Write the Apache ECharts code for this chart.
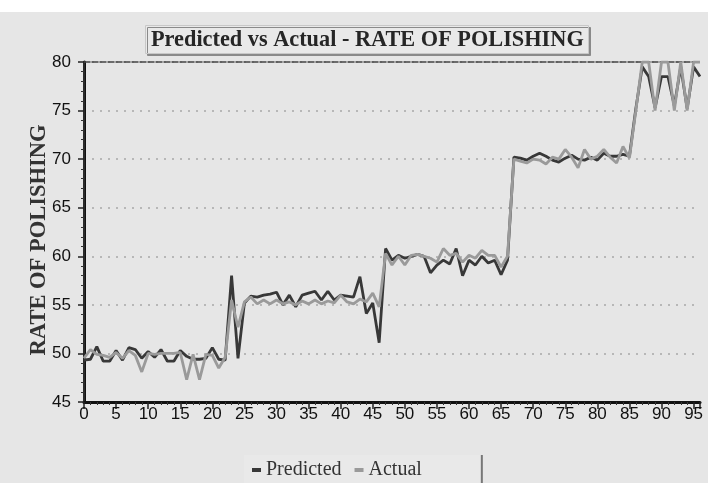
<!DOCTYPE html>
<html>
<head>
<meta charset="utf-8">
<script src="https://cdn.jsdelivr.net/npm/echarts@6/dist/echarts.min.js"></script>
<style>
  html, body { margin: 0; padding: 0; background: #fff; }
  #chart { width: 708px; height: 483px; }
</style>
</head>
<body>
<div id="chart"></div>
<script>
// sample index 0..96
const predicted = [
  49.3, 49.4, 50.7, 49.2, 49.2, 50.3, 49.3, 50.6, 50.4, 49.5,
  50.2, 49.6, 50.4, 49.2, 49.2, 50.3, 49.7, 49.4, 49.4, 49.5,
  50.6, 49.4, 49.3, 58.0, 49.5, 55.2, 55.9, 55.8, 56.0, 56.1,
  56.3, 55.0, 56.0, 54.8, 56.0, 56.2, 56.4, 55.5, 56.4, 55.5,
  56.0, 55.9, 55.8, 57.9, 54.1, 55.2, 51.1, 60.8, 59.6, 60.1,
  59.8, 60.0, 60.2, 60.0, 58.3, 59.1, 59.6, 59.2, 60.8, 58.0,
  59.6, 59.1, 60.0, 59.3, 59.6, 58.1, 59.6, 70.2, 70.1, 69.9,
  70.3, 70.6, 70.3, 69.9, 69.7, 70.1, 70.4, 70.0, 69.9, 70.2,
  69.9, 70.6, 70.3, 70.3, 70.5, 70.3, 75.2, 79.5, 78.5, 75.3,
  78.5, 78.5, 75.5, 79.5, 75.2, 79.5, 78.5
];
const actual = [
  49.5, 50.4, 49.9, 49.8, 49.6, 50.1, 49.5, 50.3, 49.8, 48.1,
  50.0, 49.9, 50.0, 50.0, 50.0, 50.1, 47.3, 49.9, 47.3, 49.9,
  49.8, 48.5, 49.6, 55.5, 52.7, 55.3, 55.8, 55.1, 55.5, 55.1,
  55.5, 55.1, 55.3, 55.0, 55.4, 55.1, 55.5, 55.1, 55.4, 55.2,
  56.0, 55.3, 55.1, 55.6, 55.3, 56.2, 54.8, 60.3, 59.1, 60.0,
  59.1, 60.1, 60.2, 60.0, 59.8, 59.4, 60.8, 60.1, 60.3, 59.4,
  60.1, 59.8, 60.6, 60.1, 60.1, 58.9, 60.0, 70.0, 69.8, 69.6,
  70.0, 69.9, 69.5, 70.2, 70.0, 71.0, 70.2, 69.1, 71.0, 70.0,
  70.3, 71.0, 70.2, 69.6, 71.3, 70.1, 75.0, 80.0, 80.0, 75.0,
  80.0, 80.0, 75.0, 80.0, 75.0, 80.0, 80.0
];
const seriesNames = ['Predicted', 'Actual'];

const chart = echarts.init(document.getElementById('chart'));

const toPairs = arr => arr.map((v, i) => [i, v]);
const serif = '"Liberation Serif", "DejaVu Serif", serif';
const sans = '"Liberation Sans", Arial, sans-serif';

const option = {
  backgroundColor: '#e6e6e6',
  animation: false,
  graphic: [{
    type: 'rect',
    shape: { x: 0, y: 0, width: 708, height: 12 },
    style: { fill: '#fff' },
    z: 100
  }],
  title: {
    text: 'Predicted vs Actual - RATE OF POLISHING',
    left: 145,
    top: 25,
    padding: [4, 5, 3, 6],
    backgroundColor: '#e9e9e9',
    borderColor: '#c8c8c8',
    borderWidth: 1,
    shadowColor: '#8a8a8a',
    shadowOffsetX: 2,
    shadowOffsetY: 2,
    shadowBlur: 0,
    textStyle: { fontFamily: serif, fontSize: 22.3, fontWeight: 'bold', color: '#262626' }
  },
  legend: {
    data: seriesNames,
    left: 244,
    top: 455,
    padding: [5, 59, 8, 8],
    itemWidth: 9,
    itemHeight: 4,
    itemGap: 13,
    icon: 'rect',
    backgroundColor: '#e9e9e9',
    shadowColor: '#777',
    shadowOffsetX: 2,
    shadowOffsetY: 0,
    shadowBlur: 0,
    textStyle: { fontFamily: serif, fontSize: 20, color: '#333' }
  },
  grid: { left: 84, right: 8, top: 62, bottom: 81 },
  xAxis: [{
    type: 'value',
    min: 0,
    max: 96,
    interval: 5,
    axisLine: { show: true, lineStyle: { color: '#111', width: 3 } },
    axisTick: { show: true, length: 7, lineStyle: { color: '#222', width: 1.5 } },
    minorTick: { show: true, splitNumber: 5, length: 3, lineStyle: { color: '#333' } },
    axisLabel: { showMaxLabel: false, margin: 4, fontFamily: sans, fontSize: 17, color: '#111' },
    splitLine: { show: false }
  }, {
    type: 'value',
    position: 'top',
    min: 0,
    max: 96,
    axisLine: { show: true, lineStyle: { color: '#444', width: 1.5, type: [6, 2] } },
    axisTick: { show: false },
    axisLabel: { show: false },
    splitLine: { show: false }
  }],
  yAxis: [{
    type: 'value',
    min: 45,
    max: 80,
    interval: 5,
    name: 'RATE OF POLISHING',
    nameLocation: 'middle',
    nameGap: 33,
    nameRotate: 90,
    nameMoveOverlap: false,
    nameTextStyle: { fontFamily: serif, fontSize: 22.5, fontWeight: 'bold', color: '#333', padding: [0, 16, 0, 0] },
    axisLine: { show: true, lineStyle: { color: '#111', width: 3 } },
    axisTick: { show: true, length: 6, lineStyle: { color: '#222', width: 1.5 } },
    minorTick: { show: true, splitNumber: 5, length: 3, lineStyle: { color: '#333' } },
    axisLabel: { margin: 13, fontFamily: sans, fontSize: 17, color: '#111' },
    splitLine: { show: true, lineStyle: { color: '#a8a8a8', type: [2, 6], width: 1.5 } }
  }, {
    type: 'value',
    position: 'right',
    min: 45,
    max: 80,
    axisLine: { show: true, lineStyle: { color: '#333', width: 1.5 } },
    axisTick: { show: false },
    axisLabel: { show: false },
    splitLine: { show: false }
  }],
  series: [{
    name: seriesNames[0],
    type: 'line',
    data: toPairs(predicted),
    showSymbol: false,
    symbol: 'none',
    color: '#383838',
    lineStyle: { color: '#383838', width: 2.8 }
  }, {
    name: seriesNames[1],
    type: 'line',
    data: toPairs(actual),
    showSymbol: false,
    symbol: 'none',
    color: '#9a9a9a',
    lineStyle: { color: '#9a9a9a', width: 2.8 }
  }]
};

chart.setOption(option);
window.addEventListener('resize', () => chart.resize());
</script>
</body>
</html>
